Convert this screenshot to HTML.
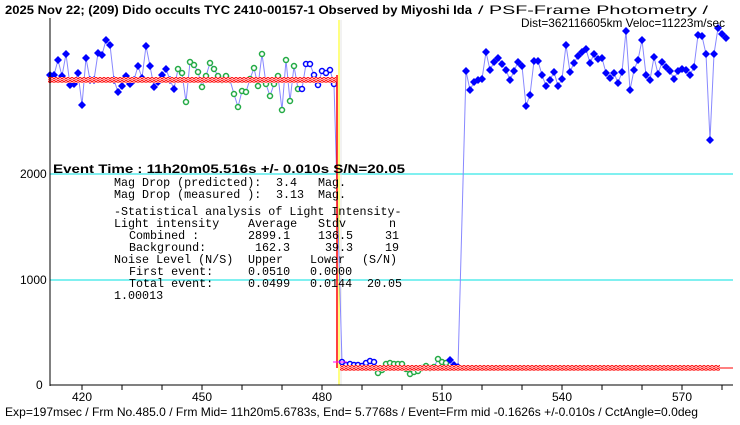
<!DOCTYPE html>
<html><head><meta charset="utf-8"><style>
body{margin:0;background:#fff;width:740px;height:425px;overflow:hidden}
svg{display:block}
.t{font-family:"Liberation Sans","Noto Sans CJK JP",sans-serif;font-size:12px}
.m{font-family:"Liberation Mono",monospace;font-size:11.7px}
</style></head><body>
<svg id="s" width="740" height="425" xmlns="http://www.w3.org/2000/svg">
<defs>
<pattern id="ck" x="0" y="0" width="4" height="6" patternUnits="userSpaceOnUse">
<rect width="4" height="6" fill="#fff"/>
<circle cx="2" cy="1.5" r="1.2" fill="none" stroke="#f00" stroke-width="0.9"/>
<circle cx="0" cy="4.5" r="1.2" fill="none" stroke="#f00" stroke-width="0.9"/>
<circle cx="4" cy="4.5" r="1.2" fill="none" stroke="#f00" stroke-width="0.9"/>
</pattern>
</defs>
<line x1="50" y1="174" x2="733" y2="174" stroke="#00e0e0"/>
<line x1="50" y1="280" x2="733" y2="280" stroke="#00e0e0"/>
<line x1="341" y1="20" x2="341" y2="385" stroke="#e4e4e4"/>
<line x1="339" y1="20" x2="339" y2="385" stroke="#ff0"/>
<g id="data"></g>
<rect x="48" y="77" width="288" height="6" fill="url(#ck)"/>
<rect x="340" y="365" width="380" height="6" fill="url(#ck)"/>
<line x1="720" y1="368" x2="733" y2="368" stroke="#f00"/>
<line x1="337" y1="75" x2="337" y2="368" stroke="#f00" stroke-width="1.5"/>
<line x1="333" y1="362" x2="347" y2="362" stroke="#f0f"/>
<line x1="50" y1="18" x2="50" y2="386" stroke="#000"/>
<line x1="50" y1="385" x2="733" y2="385" stroke="#000"/>
<g id="ticks" stroke="#000"></g>
<g class="t" font-size="12">
<text x="20" y="178">2000</text><text x="20" y="284">1000</text><text x="36" y="389">0</text>
<text x="82" y="401" text-anchor="middle">420</text><text x="202" y="401" text-anchor="middle">450</text>
<text x="322" y="401" text-anchor="middle">480</text><text x="442" y="401" text-anchor="middle">510</text>
<text x="562" y="401" text-anchor="middle">540</text><text x="682" y="401" text-anchor="middle">570</text>
</g>
<text x="5" y="14" class="t" font-size="13" font-weight="bold" textLength="467" lengthAdjust="spacingAndGlyphs">2025 Nov 22; (209) Dido occults TYC 2410-00157-1 Observed by Miyoshi Ida</text>
<text x="478" y="14" class="t" font-size="12" textLength="230" lengthAdjust="spacingAndGlyphs">/ PSF-Frame Photometry /</text>
<text x="521" y="27" class="t" font-size="12" textLength="204" lengthAdjust="spacingAndGlyphs">Dist=362116605km Veloc=11223m/sec</text>
<text x="53" y="173" class="t" font-size="13" font-weight="bold" textLength="352" lengthAdjust="spacingAndGlyphs">Event Time : 11h20m05.516s  +/- 0.010s  S/N=20.05</text>
<g class="m">
<text x="114" y="186">Mag Drop (predicted):</text><text x="276" y="186">3.4</text><text x="318" y="186">Mag.</text>
<text x="114" y="198">Mag Drop (measured ):</text><text x="276" y="198">3.13</text><text x="318" y="198">Mag.</text>
<text x="114" y="215">-Statistical analysis of Light Intensity-</text>
<text x="114" y="227">Light intensity</text><text x="248" y="227">Average</text><text x="318" y="227">Stdv</text><text x="389" y="227">n</text>
<text x="129" y="239">Combined  :</text><text x="248" y="239">2899.1</text><text x="318" y="239">136.5</text><text x="385" y="239">31</text>
<text x="129" y="251">Background:</text><text x="255" y="251">162.3</text><text x="325" y="251">39.3</text><text x="385" y="251">19</text>
<text x="114" y="263">Noise Level (N/S)</text><text x="248" y="263">Upper</text><text x="310" y="263">Lower</text><text x="362" y="263">(S/N)</text>
<text x="129" y="275">First event:</text><text x="248" y="275">0.0510</text><text x="310" y="275">0.0000</text>
<text x="129" y="287">Total event:</text><text x="248" y="287">0.0499</text><text x="310" y="287">0.0144</text><text x="367" y="287">20.05</text>
<text x="114" y="299">1.00013</text>
</g>
<text x="5" y="416" class="t" textLength="693" lengthAdjust="spacingAndGlyphs">Exp=197msec / Frm No.485.0 / Frm Mid= 11h20m5.6783s,  End= 5.7768s / Event=Frm mid -0.1626s +/-0.010s / CctAngle=0.0deg</text>
</svg>
<script>
var pre=[75,75,60,76,54,85,84,73,105,58,80,80,53,55,40,45,80,92,86,76,84,80,66,78,46,66,87,82,75,69,80,89,
69,73,102,62,65,72,87,76,63,69,76,80,76,80,94,107,91,92,79,68,86,54,84,96,84,76,110,60,101,66,89,
89,64,64,75,85,71,73,70,84];
var post=[362,365,364,365,365,366,363,361,362,373,370,364,363,364,364,364,369,374,372,371,368,366,368,367,359,362,363,360,365,367];
var up=[71,90,82,80,79,52,70,62,58,64,70,80,71,62,66,106,95,61,61,75,86,80,72,86,79,45,72,63,56,52,49,63,54,59,58,73,78,73,83,72,31,90,70,60,40,75,80,57,74,62,67,71,79,71,69,70,75,67,35,36,54,140,54,28,34,38];
var pts=[],x=50;
pre.forEach(function(y,i){pts.push([x,y,i<32?'bf':(i<63?'go':'bo')]);x+=4;});
x=342;post.forEach(function(y,i){pts.push([x,y,i<9?'bo':(i<27?'go':'bf')]);x+=4;});
x=466;up.forEach(function(y){pts.push([x,y,'bf']);x+=4;});
var h='<polyline fill="none" stroke="#8888ff" stroke-width="1" points="'+pts.map(function(p){return p[0]+','+p[1]}).join(' ')+'"/>';
pts.forEach(function(p){var x=p[0],y=p[1];
 if(p[2]=='bf')h+='<polygon points="'+x+','+(y-4)+' '+(x+4)+','+y+' '+x+','+(y+4)+' '+(x-4)+','+y+'" fill="#0000ff"/>';
 else h+='<circle cx="'+x+'" cy="'+y+'" r="2.5" fill="#fff" stroke="'+(p[2]=='go'?'#22aa44':'#0000ff')+'" stroke-width="1.5"/>';});
document.getElementById('data').innerHTML=h;
var t='';for(var f=410;f<=580;f+=10){var tx=82+(f-420)*4;if(tx>50&&tx<733)t+='<line x1="'+tx+'" y1="385" x2="'+tx+'" y2="390"/>';}
document.getElementById('ticks').innerHTML=t;
</script>
</body></html>
